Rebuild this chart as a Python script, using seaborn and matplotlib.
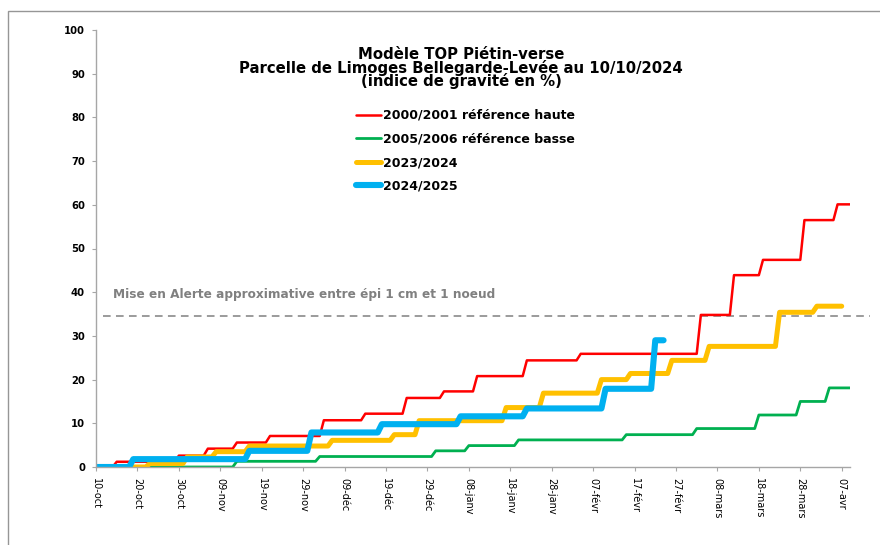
import matplotlib
matplotlib.use("Agg")
import matplotlib.pyplot as plt
import seaborn as sns
import pandas as pd
from matplotlib.patches import Rectangle

# step readings: (day since 10-oct when the new level is reached, level in %)
red_steps = [(5, 1.2), (20, 2.6), (27, 4.2), (34, 5.6), (42, 7.1), (55, 10.7),
             (65, 12.2), (75, 15.8), (84, 17.3), (92, 20.8), (104, 24.4),
             (117, 25.9), (146, 34.8), (154, 43.9), (161, 47.4), (171, 56.5),
             (179, 60.1)]
green_steps = [(34, 1.3), (54, 2.4), (82, 3.7), (90, 4.9), (102, 6.2),
               (128, 7.4), (145, 8.8), (160, 11.9), (170, 15.0), (177, 18.1)]
yellow_steps = [(13, 0.8), (22, 2.3), (29, 3.5), (37, 4.8), (57, 6.1),
                (72, 7.4), (78, 10.6), (99, 13.6), (108, 16.9), (122, 20.0),
                (129, 21.4), (139, 24.4), (148, 27.6), (165, 35.4), (174, 36.8)]
blue_steps = [(9, 1.8), (37, 3.7), (52, 7.9), (69, 9.8), (88, 11.6),
              (104, 13.4), (123, 17.9), (135, 29.0)]

series_names = ["2000/2001 référence haute", "2005/2006 référence basse",
                "2023/2024", "2024/2025"]
series_steps = [red_steps, green_steps, yellow_steps, blue_steps]
series_end = [182, 182, 180, 137]
series_colors = ["#FF0000", "#00B050", "#FFC000", "#00B0F0"]
series_widths = [1.8, 2.0, 3.6, 4.4]

tick_labels = ["10-oct", "20-oct", "30-oct", "09-nov", "19-nov", "29-nov",
               "09-déc", "19-déc", "29-déc", "08-janv", "18-janv", "28-janv",
               "07-févr", "17-févr", "27-févr", "08-mars", "18-mars", "28-mars",
               "07-avr"]

alert_level = 34.5
alert_text = "Mise en Alerte approximative entre épi 1 cm et 1 noeud"
title = ("Modèle TOP Piétin-verse\n"
         "Parcelle de Limoges Bellegarde-Levée au 10/10/2024\n"
         "(indice de gravité en %)")


def expand(steps, end):
    """daily values from the step readings"""
    level = 0.0
    values = []
    for day in range(end + 1):
        for d, v in steps:
            if d == day:
                level = v
        values.append(level)
    return pd.DataFrame({"day": range(end + 1), "value": values})


sns.set_style("white")
plt.rcParams['font.family'] = ['DejaVu Sans']
plt.rcParams['text.color'] = 'black'
plt.rcParams['xtick.color'] = 'black'
plt.rcParams['ytick.color'] = 'black'

fig = plt.figure(figsize=(8.8, 5.45), dpi=100)
ax = fig.add_axes([96 / 880, 1 - 467 / 545, (850 - 96) / 880, (467 - 30) / 545])

for name, steps, end, col, lw in zip(series_names, series_steps, series_end,
                                     series_colors, series_widths):
    sns.lineplot(data=expand(steps, end), x="day", y="value", color=col,
                 linewidth=lw, label=name, ax=ax)

# alert threshold line and its note
ax.plot([1.7, 186.8], [alert_level, alert_level], color="#808080", lw=1.1,
        ls=(0, (5, 3.5)), clip_on=False, zorder=1)
ax.text(4, 39.4, alert_text, color="#808080", fontsize=8.7,
        fontweight="bold", va="center", ha="left")

ax.set_xlim(0, 182)
ax.set_ylim(0, 100)
ax.set_xticks(range(0, 10 * len(tick_labels), 10))
ax.set_xticklabels(tick_labels, rotation=270, fontsize=7)
ax.set_yticks(range(0, 101, 10))
ax.set_yticklabels([str(v) for v in range(0, 101, 10)], fontsize=7.2,
                   fontweight="bold")
ax.set_xlabel("")
ax.set_ylabel("")
for side in ["top", "right"]:
    ax.spines[side].set_visible(False)
for side in ["left", "bottom"]:
    ax.spines[side].set_color("#A6A6A6")
    ax.spines[side].set_linewidth(1.0)
ax.tick_params(axis="both", length=3, color="#A6A6A6", direction="out",
               left=True, bottom=True, pad=5)

leg = ax.legend(loc="upper left", bbox_to_anchor=((345 - 96) / 754, 0.845),
                frameon=False, fontsize=9, handlelength=2.0,
                handletextpad=0.12, labelspacing=0.85)
for t in leg.get_texts():
    t.set_fontweight("bold")

fig.text(461 / 880, 1 - 68 / 545, title, ha="center", va="center",
         fontsize=10.7, fontweight="bold", linespacing=0.8)

# outer chart frame
fig.patches.append(Rectangle((8 / 880, -0.05), 1.0, 1 - 11 / 545 + 0.05,
                             transform=fig.transFigure, fill=False,
                             edgecolor="#969696", lw=1.0))

fig.savefig("out.png", dpi=100)
